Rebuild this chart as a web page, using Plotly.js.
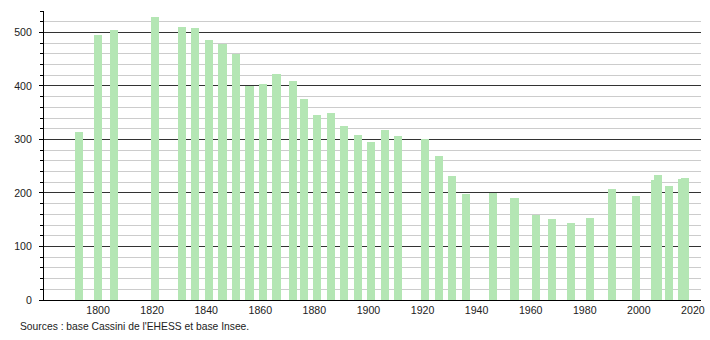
<!DOCTYPE html>
<html><head><meta charset="utf-8">
<script src="https://cdn.plot.ly/plotly-3.0.1.min.js"></script>
<style>html,body{margin:0;padding:0;background:#fff}#chart{width:710px;height:340px}</style>
</head><body><div id="chart"></div>
<script>
var years = [1793,1800,1806,1821,1831,1836,1841,1846,1851,1856,1861,1866,1872,1876,1881,1886,1891,1896,1901,1906,1911,1921,1926,1931,1936,1946,1954,1962,1968,1975,1982,1990,1999,2006,2007,2011,2016,2017];
var population = [313,496,505,528,511,509,486,479,459,400,403,423,410,375,345,349,326,308,295,317,306,301,270,231,198,200,190,158,151,144,153,207,194,225,233,213,227,228];
var xTicks = [1800,1820,1840,1860,1880,1900,1920,1940,1960,1980,2000,2020];
var sourceText = "Sources : base Cassini de l'EHESS et base Insee.";

var trace = {
  type: 'bar', x: years, y: population, width: 3,
  marker: {color: '#b4e6b4', line: {width: 0}},
  hoverinfo: 'x+y'
};
var layout = {
  width: 710, height: 340,
  margin: {l: 44, r: 9, t: 11, b: 40},
  paper_bgcolor: '#fff', plot_bgcolor: '#fff',
  showlegend: false,
  font: {family: 'Liberation Sans, Arial, sans-serif', size: 11, color: '#222'},
  xaxis: {
    range: [1780, 2023], tickvals: xTicks, ticktext: xTicks.map(String),
    showgrid: false, zeroline: false, showline: true, linecolor: '#000', linewidth: 1,
    ticks: '', tickfont: {size: 10.6, color: '#222'}
  },
  yaxis: {
    range: [0, 540], dtick: 100, tick0: 0,
    showgrid: true, gridcolor: '#333', gridwidth: 1,
    zeroline: false, showline: true, linecolor: '#000', linewidth: 1,
    ticks: 'outside', ticklen: 4, tickcolor: '#000', ticklabelstandoff: 5,
    tickfont: {size: 10.6, color: '#222'},
    minor: {dtick: 20, showgrid: true, gridcolor: '#cccccc', gridwidth: 1, ticks: 'outside', ticklen: 3, tickcolor: '#000'}
  },
  bargap: 0,
  annotations: [{
    text: sourceText, xref: 'paper', yref: 'paper', x: -0.039, y: -0.093,
    xanchor: 'left', yanchor: 'middle', showarrow: false,
    font: {size: 10.3, color: '#222'}
  }]
};
Plotly.newPlot('chart', [trace], layout, {displayModeBar: false, staticPlot: true});
</script></body></html>
